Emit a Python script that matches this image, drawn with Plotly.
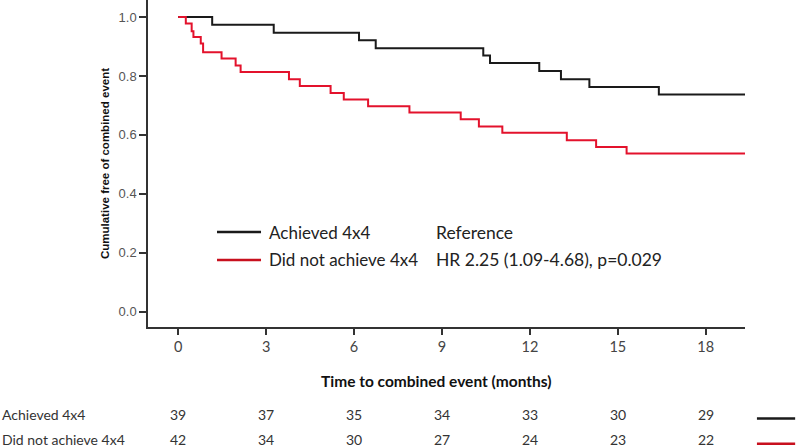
import plotly.graph_objects as go

# Kaplan-Meier step data (months, survival)
black_t = [0, 1.16, 3.26, 6.17, 6.74, 10.41, 10.64, 12.32, 13.06, 14.03, 16.40, 19.34]
black_s = [1.0, 0.974, 0.947, 0.921, 0.894, 0.870, 0.844, 0.817, 0.789, 0.763, 0.737, 0.737]

red_t = [0, 0.26, 0.46, 0.52, 0.77, 0.85, 1.48, 1.96, 2.13, 3.78, 4.15, 5.20, 5.65,
         6.48, 7.89, 9.64, 10.26, 11.06, 13.26, 14.26, 15.30, 19.34]
red_s = [1.0, 0.978, 0.952, 0.932, 0.910, 0.881, 0.859, 0.836, 0.814, 0.789, 0.766,
         0.742, 0.720, 0.697, 0.676, 0.653, 0.629, 0.607, 0.582, 0.559, 0.537, 0.537]

group_names = ["Achieved 4x4", "Did not achieve 4x4"]
group_stats = ["Reference", "HR 2.25 (1.09-4.68), p=0.029"]
risk_times = [0, 3, 6, 9, 12, 15, 18]
risk_black = [39, 37, 35, 34, 33, 30, 29]
risk_red = [42, 34, 30, 27, 24, 23, 22]

BLACK = "#1a1a1a"
RED = "#e3122c"
LEG_RED = "#c8101e"
FONT = "Lato"

fig = go.Figure()
fig.add_trace(go.Scatter(x=black_t, y=black_s, mode="lines", line=dict(color=BLACK, width=2, shape="hv"),
                         name=group_names[0], showlegend=False, hoverinfo="skip"))
fig.add_trace(go.Scatter(x=red_t, y=red_s, mode="lines", line=dict(color=RED, width=2, shape="hv"),
                         name=group_names[1], showlegend=False, hoverinfo="skip"))

ann = []
shapes = []
# in-plot legend
leg_y = [0.2905, 0.2049]
leg_cols = [BLACK, LEG_RED]
for i in range(2):
    shapes.append(dict(type="line", xref="paper", yref="paper", x0=0.1156, x1=0.1893,
                       y0=leg_y[i], y1=leg_y[i], line=dict(color=leg_cols[i], width=2.5)))
    ann.append(dict(xref="paper", yref="paper", x=0.200, y=leg_y[i], text=group_names[i],
                    showarrow=False, xanchor="left", yanchor="middle",
                    font=dict(family=FONT, size=17, color="#222")))
    ann.append(dict(xref="paper", yref="paper", x=0.479, y=leg_y[i], text=group_stats[i],
                    showarrow=False, xanchor="left", yanchor="middle",
                    font=dict(family=FONT, size=17.5, color="#222")))

# number at risk table
row_y = [-0.268, -0.345]
rows = [risk_black, risk_red]
for r in range(2):
    ann.append(dict(xref="paper", yref="paper", x=-0.2479, y=row_y[r], text=group_names[r],
                    showarrow=False, xanchor="left", yanchor="middle",
                    font=dict(family=FONT, size=14, color="#333")))
    for t, n in zip(risk_times, rows[r]):
        ann.append(dict(xref="x", yref="paper", x=t, y=row_y[r], text=str(n),
                        showarrow=False, xanchor="center", yanchor="middle",
                        font=dict(family=FONT, size=14, color="#333")))
    shapes.append(dict(type="line", xref="paper", yref="paper", x0=1.020, x1=1.084,
                       y0=row_y[r] - 0.012, y1=row_y[r] - 0.012,
                       line=dict(color=[BLACK, LEG_RED][r], width=2.5)))

# axis titles
ann.append(dict(xref="paper", yref="paper", x=0.483, y=-0.165, text="<b>Time to combined event (months)</b>",
                showarrow=False, xanchor="center", yanchor="middle",
                font=dict(family=FONT, size=15.5, color="#111")))

fig.update_layout(
    width=796, height=447,
    margin=dict(l=148, r=51, t=0, b=120),
    paper_bgcolor="white", plot_bgcolor="white",
    annotations=ann, shapes=shapes,
    xaxis=dict(range=[-1.03, 19.34], tickvals=risk_times, ticks="outside", ticklen=6,
               tickcolor="#333", tickwidth=1.5, showline=True, linecolor="#333", linewidth=1.5,
               showgrid=False, zeroline=False,
               tickfont=dict(family=FONT, size=14.5, color="#444")),
    yaxis=dict(range=[-0.052, 1.058], tickvals=[0, 0.2, 0.4, 0.6, 0.8, 1.0], tickformat=".1f",
               ticks="outside", ticklen=7, tickcolor="#333", tickwidth=1.5,
               showline=True, linecolor="#333", linewidth=1.5, showgrid=False, zeroline=False,
               tickfont=dict(family="Liberation Sans", size=13, color="#555"),
               title=dict(text="<b>Cumulative free of combined event</b>", standoff=7,
                          font=dict(family="Liberation Sans", size=11.5, color="#111"))),
)

fig.write_html("out.html", config={"displayModeBar": False},
               post_script="document.body.style.margin='0';document.body.style.overflow='hidden';")
